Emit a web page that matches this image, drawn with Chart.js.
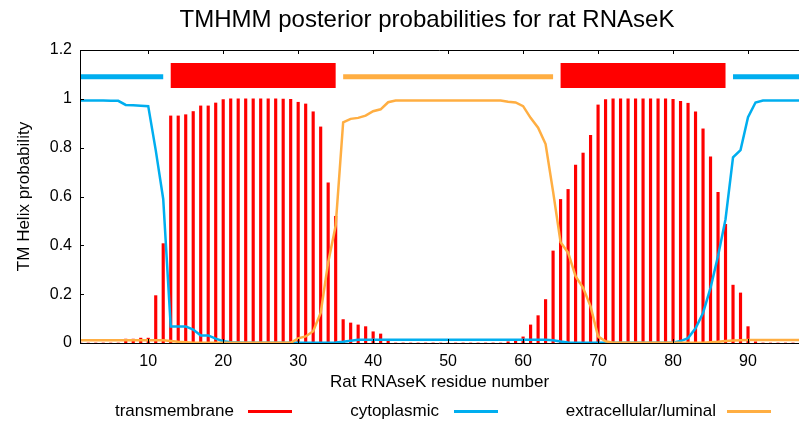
<!DOCTYPE html>
<html>
<head>
<meta charset="utf-8">
<script src="https://cdn.jsdelivr.net/npm/chart.js@4/dist/chart.umd.min.js"></script>
<style>
  body { margin: 0; background: #fff; }
  #wrap { position: relative; width: 799px; height: 423px; font-family: "Liberation Sans", Arial, sans-serif; color: #000; }
  #titulo { position: absolute; left: 0; top: 5px; width: 854px; text-align: center; font-size: 24px; line-height: 28px; }
  .legTxt { position: absolute; top: 401px; font-size: 17px; line-height: 20px; white-space: nowrap; }
  .legLin { position: absolute; top: 410px; height: 3px; width: 44px; }
  canvas { position: absolute; left: 0; top: 0; }
</style>
</head>
<body>
<div id="wrap">
  <canvas id="grafico" width="799" height="423"></canvas>
  <div id="titulo">TMHMM posterior probabilities for rat RNAseK</div>
</div>
<script>
// residuos 1..97
const residuos = [
  1,2,3,4,5,6,7,8,9,10,11,12,13,14,15,16,17,18,19,20,
  21,22,23,24,25,26,27,28,29,30,31,32,33,34,35,36,37,38,39,40,
  41,42,43,44,45,46,47,48,49,50,51,52,53,54,55,56,57,58,59,60,
  61,62,63,64,65,66,67,68,69,70,71,72,73,74,75,76,77,78,79,80,
  81,82,83,84,85,86,87,88,89,90,91,92,93,94,95,96,97
];

const transmembrana = [
  0,0,0,0,0,0,0.016,0.016,0.02,0.02,
  0.194,0.407,0.93,0.93,0.935,0.948,0.971,0.971,0.983,0.997,
  1,1,1,1,1,1,1,0.999,0.998,0.986,
  0.979,0.947,0.885,0.656,0.519,0.096,0.082,0.074,0.067,0.046,
  0.037,0.007,0,0,0,0,0,0,0,0,
  0,0,0,0,0,0,0,0.005,0.007,0.025,
  0.074,0.112,0.178,0.377,0.588,0.629,0.729,0.778,0.851,0.975,
  0.997,1,1,1,1,1,1,1,1,0.998,
  0.99,0.982,0.947,0.877,0.762,0.617,0.486,0.237,0.205,0.067,
  0.005,0,0,0,0,0,0
];

const citoplasmico = [
  0.993,0.993,0.993,0.993,0.992,0.992,0.975,0.974,0.972,0.97,
  0.79,0.59,0.068,0.068,0.068,0.055,0.031,0.031,0.018,0.007,
  0.003,0.002,0.001,0.001,0.001,0.001,0.001,0.001,0.001,0.001,
  0.001,0.001,0.001,0.001,0.002,0.005,0.009,0.013,0.013,0.013,
  0.013,0.013,0.013,0.013,0.013,0.013,0.013,0.013,0.013,0.013,
  0.013,0.013,0.013,0.013,0.013,0.013,0.013,0.013,0.013,0.013,
  0.013,0.013,0.013,0.011,0.006,0.002,0.001,0.001,0.001,0.001,
  0.001,0.001,0.001,0.001,0.001,0.001,0.001,0.001,0.001,0.001,
  0.008,0.02,0.06,0.123,0.226,0.356,0.507,0.76,0.79,0.925,
  0.985,0.993,0.993,0.993,0.993,0.993,0.993
];

const extracelular = [
  0.011,0.011,0.011,0.011,0.011,0.011,0.011,0.011,0.011,0.011,
  0.011,0.011,0.008,0.005,0.003,0.001,0.001,0.001,0.001,0.001,
  0.001,0.001,0.001,0.001,0.001,0.001,0.001,0.001,0.001,0.019,
  0.027,0.048,0.123,0.33,0.48,0.904,0.918,0.922,0.931,0.949,
  0.957,0.986,0.993,0.993,0.993,0.993,0.993,0.993,0.993,0.993,
  0.993,0.993,0.993,0.993,0.993,0.993,0.993,0.988,0.985,0.97,
  0.922,0.882,0.815,0.62,0.413,0.37,0.274,0.226,0.15,0.027,
  0.007,0.001,0.001,0.001,0.001,0.001,0.001,0.001,0.001,0.001,
  0.001,0.001,0.001,0.001,0.003,0.005,0.008,0.01,0.011,0.012,
  0.012,0.012,0.012,0.012,0.012,0.012,0.012
];

// topologia prevista (faixa no topo)
const topoInicio = [1, 13, 36, 65, 88];
const topoFim    = [12, 35, 64, 87, 97];
const topoTipo   = ['cyto', 'tm', 'extra', 'tm', 'cyto'];
const topoNivel  = [1.09, 1.096, 1.09, 1.096, 1.09];

const xTicks = [10, 20, 30, 40, 50, 60, 70, 80, 90];
const yTicks = [0, 0.2, 0.4, 0.6, 0.8, 1, 1.2];
const yTickLabels = ['0', '0.2', '0.4', '0.6', '0.8', '1', '1.2'];

const cores = { tm: '#ff0000', cyto: '#00aeef', extra: '#ffae42' };

const pares = (ys) => residuos.map((r, i) => ({ x: r, y: ys[i] }));

const datasets = [
  { type: 'bar', label: 'transmembrane', data: pares(transmembrana), backgroundColor: cores.tm,
    borderWidth: 0, barThickness: 2.5, order: 5 },
  { type: 'line', label: 'cytoplasmic', data: pares(citoplasmico), borderColor: cores.cyto,
    borderWidth: 2.5, pointRadius: 0, tension: 0, fill: false, order: 2 },
  { type: 'line', label: 'extracellular/luminal', data: pares(extracelular), borderColor: cores.extra,
    borderWidth: 2.5, pointRadius: 0, tension: 0, fill: false, order: 1 }
];

topoTipo.forEach((t, i) => {
  datasets.push({
    type: 'line', label: '', data: [{ x: topoInicio[i], y: topoNivel[i] }, { x: topoFim[i], y: topoNivel[i] }],
    borderColor: cores[t], borderWidth: t === 'tm' ? 25 : 5, borderCapStyle: 'butt',
    pointRadius: 0, fill: false, order: 0
  });
});

// moldura e tiques para dentro, como no gnuplot
const moldura = {
  id: 'moldura',
  afterDatasetsDraw(chart) {
    const { ctx, chartArea: a, scales: { x, y } } = chart;
    ctx.save();
    ctx.strokeStyle = '#000';
    ctx.lineWidth = 1;
    ctx.beginPath();
    ctx.moveTo(a.right, a.top + 0.5); ctx.lineTo(a.left + 0.5, a.top + 0.5);
    ctx.lineTo(a.left + 0.5, a.bottom + 0.5); ctx.lineTo(a.right, a.bottom + 0.5);
    xTicks.forEach(v => {
      const px = Math.round(x.getPixelForValue(v)) + 0.5;
      ctx.moveTo(px, a.bottom); ctx.lineTo(px, a.bottom - 4);
      ctx.moveTo(px, a.top); ctx.lineTo(px, a.top + 4);
    });
    yTicks.forEach(v => {
      const py = Math.round(y.getPixelForValue(v)) + 0.5;
      ctx.moveTo(a.left, py); ctx.lineTo(a.left + 4, py);
    });
    ctx.stroke();
    ctx.restore();
  }
};

Chart.defaults.font.family = '"Liberation Sans", Arial, sans-serif';
Chart.defaults.color = '#000';

const ctx = document.getElementById('grafico');
new Chart(ctx, {
  type: 'bar',
  data: { datasets },
  options: {
    responsive: false,
    animation: false,
    layout: { padding: { top: 50, left: 0, right: 0, bottom: 30 } },
    plugins: { legend: { display: false }, title: { display: false }, tooltip: { enabled: false } },
    scales: {
      x: {
        type: 'linear', min: 0.9, max: 96.8, offset: false,
        grid: { display: false, drawTicks: false }, border: { display: false },
        ticks: { font: { size: 16 }, padding: 9, maxRotation: 0 },
        title: { display: true, text: 'Rat RNAseK residue number', font: { size: 17 }, padding: { top: 0, bottom: 0 } },
        afterBuildTicks: s => { s.ticks = xTicks.map(v => ({ value: v })); },
        afterFit: s => { s.height = 50; }
      },
      y: {
        min: 0, max: 1.2,
        grid: { display: false, drawTicks: false }, border: { display: false },
        ticks: { font: { size: 16 }, padding: 8, callback: (v, i) => yTickLabels[i] },
        title: { display: true, text: 'TM Helix probability', font: { size: 17 }, padding: { top: 14, bottom: 0 } },
        afterBuildTicks: s => { s.ticks = yTicks.map(v => ({ value: v })); },
        afterFit: s => { s.width = 80; }
      }
    }
  },
  plugins: [moldura]
});

// legenda embaixo: texto e depois a amostra da linha
const legTextoDir = [234, 439, 716];
const legLinhaEsq = [248, 454, 727];
const wrap = document.getElementById('wrap');
datasets.slice(0, 3).forEach((d, i) => {
  const t = document.createElement('div');
  t.className = 'legTxt';
  t.style.right = (799 - legTextoDir[i]) + 'px';
  t.textContent = d.label;
  wrap.appendChild(t);
  const l = document.createElement('div');
  l.className = 'legLin';
  l.style.left = legLinhaEsq[i] + 'px';
  l.style.background = d.type === 'bar' ? d.backgroundColor : d.borderColor;
  wrap.appendChild(l);
});
</script>
</body>
</html>
